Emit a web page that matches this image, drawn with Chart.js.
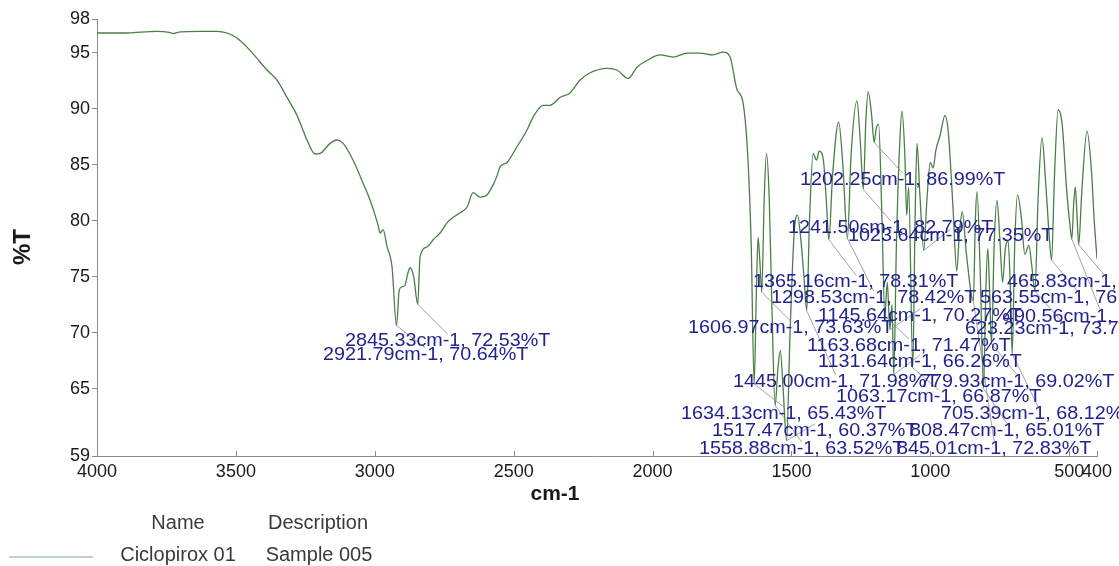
<!DOCTYPE html>
<html>
<head>
<meta charset="utf-8">
<title>Ciclopirox 01 – FTIR</title>
<script src="https://cdn.jsdelivr.net/npm/chart.js@4.4.1/dist/chart.umd.min.js"></script>
<style>
  html, body { margin: 0; padding: 0; background: #ffffff; }
  canvas { display: block; }
</style>
</head>
<body>
<canvas id="ir" width="1119" height="566"></canvas>
<script>
// ---- Spectrum trace (cm-1, %T), picked peaks are merged in below ----
const traceWavenumbers = [
  4000, 3900, 3784, 3740, 3726, 3700, 3629, 3568, 3532, 3496, 3449, 3388, 3352, 3316, 3280,
  3244, 3215, 3197, 3161, 3136, 3114, 3078, 3042, 3017, 2988, 2981, 2970, 2956, 2938,
  2912, 2902, 2892, 2880, 2873, 2860, 2837, 2812, 2790, 2765, 2740, 2718, 2693, 2668,
  2646, 2621, 2596, 2574, 2560, 2549, 2524, 2488, 2452, 2430, 2394, 2369, 2333, 2297,
  2261, 2225, 2164, 2128, 2088, 2056, 2020, 1973, 1926, 1876, 1829, 1782, 1746, 1721,
  1696, 1674, 1656, 1645,
  1626, 1620, 1614, 1598, 1590, 1580, 1570, 1548, 1540, 1530, 1505, 1490, 1478, 1465,
  1455, 1435, 1422, 1410, 1400, 1385, 1375, 1352, 1330, 1315, 1285, 1264, 1252, 1232,
  1224, 1212, 1195, 1186, 1175, 1155, 1138, 1122, 1110, 1102, 1092, 1085, 1078, 1055,
  1048, 1038, 1012, 1000, 990, 980, 965, 947, 935, 918, 905, 895, 885, 870, 838, 832,
  820, 800, 793, 787, 770, 760, 750, 740, 730, 720, 712, 696, 686, 672, 660, 645, 635,
  612, 598, 585, 573, 553, 540, 525, 510, 497, 484, 478, 472, 455, 436, 420, 410, 400
];
const traceTransmittance = [
  96.75, 96.75, 96.9, 96.8, 96.7, 96.85, 96.9, 96.9, 96.75, 96.3, 95.2, 93.45, 92.55, 91.0, 89.4,
  87.2, 85.95, 86.0, 86.9, 87.2, 86.9, 85.4, 83.35, 81.85, 79.6, 78.9, 79.2, 77.7, 75.9,
  73.8, 74.1, 74.2, 75.4, 75.8, 75.0, 76.8, 77.65, 78.3, 78.9, 79.8, 80.3, 80.7, 81.2,
  82.5, 82.1, 82.3, 83.2, 84.0, 84.8, 85.2, 86.6, 88.1, 89.25, 90.3, 90.3, 91.0, 91.4,
  92.55, 93.2, 93.6, 93.45, 92.7, 93.7, 94.3, 94.8, 94.6, 94.95, 94.95, 94.8, 95.05, 94.6,
  91.7, 90.5, 85.2, 78.0,
  74.0, 78.5, 76.5, 82.0, 86.0, 82.0, 72.0, 67.0, 68.4, 65.0, 70.0, 79.0, 80.5, 78.0,
  75.0, 80.0, 86.0, 85.4, 86.2, 85.4, 82.0, 84.0, 88.8, 85.0, 86.0, 90.7, 87.0, 89.0,
  91.5, 89.6, 88.2, 88.6, 81.0, 74.5, 72.5, 78.0, 87.0, 89.8, 86.0, 80.5, 83.0, 80.0,
  86.9, 82.5, 82.0, 85.2, 84.7, 86.3, 87.6, 89.4, 87.8, 81.0, 75.5, 79.0, 80.8, 77.0, 80.0, 82.6,
  75.0, 74.0, 77.5, 74.0, 78.0, 81.8, 78.5, 74.5, 77.5, 78.2, 74.0, 78.0, 82.3, 80.2, 77.0, 77.8, 76.0,
  82.0, 87.4, 83.5, 79.0, 84.0, 89.9, 88.5, 83.0, 79.5, 81.5, 83.0, 80.5, 82.5, 88.0, 84.5, 80.0, 76.6
];

// ---- Picked peaks (cm-1, %T), in label drawing order ----
const peakWavenumbers = [
  2845.33, 2921.79, 1202.25, 1241.50, 1023.64, 1365.16, 465.83, 1298.53, 563.55, 1145.64,
  490.56, 1606.97, 623.23, 1163.68, 1131.64, 1445.00, 779.93, 1063.17, 1634.13, 705.39,
  1517.47, 808.47, 1558.88, 845.01
];
const peakTransmittance = [
  72.53, 70.64, 86.99, 82.79, 77.35, 78.31, 77.85, 78.42, 76.48, 70.27,
  78.35, 73.63, 73.72, 71.47, 66.26, 71.98, 69.02, 66.87, 65.43, 68.12,
  60.37, 65.01, 63.52, 72.83
];

// Where each peak label sits: left edge (cm-1) and text middle (%T)
const labelLeftWavenumber = [
  3107.2, 3186.4, 1469.2, 1512.4, 1296.4, 1638.4, 724.0, 1573.6, 821.2, 1404.4,
  738.4, 1872.4, 875.2, 1444.0, 1404.4, 1710.4, 1037.2, 1339.6, 1897.6, 961.6,
  1786.0, 1073.2, 1832.8, 1120.0
];
const labelMiddleTransmittance = [
  69.26, 68.01, 83.63, 79.35, 78.63, 74.53, 74.53, 73.10, 73.10, 71.49,
  71.40, 70.42, 70.33, 68.82, 67.39, 65.60, 65.60, 64.27, 62.75, 62.75,
  61.23, 61.23, 59.62, 59.62
];

// ---- Axes and legend text ----
const xTickValues = [4000, 3500, 3000, 2500, 2000, 1500, 1000, 500, 400];
const yTickValues = [98, 95, 90, 85, 80, 75, 70, 65, 59];
const xTitle = 'cm-1';
const yTitle = '%T';
const legendHeader = ['Name', 'Description'];
const legendEntry = ['Ciclopirox 01', 'Sample 005'];

// ---- Build the ordered point list (high to low wavenumber) ----
const spectrum = traceWavenumbers.map((w, i) => ({ x: w, y: traceTransmittance[i] }))
  .concat(peakWavenumbers.map((w, i) => ({ x: w, y: peakTransmittance[i] })))
  .sort((a, b) => b.x - a.x);

const FONT = '"Liberation Sans", Arial, Helvetica, sans-serif';
const LABEL_FONT = '19px ' + FONT;
const LABEL_STRETCH = 1.04;
const LABEL_COLOR = '#23238f';
const AXIS_COLOR = '#8a8a8a';

function peakText(i) {
  return peakWavenumbers[i].toFixed(2) + 'cm-1, ' + peakTransmittance[i].toFixed(2) + '%T';
}

// Peak annotations: leader line from the band minimum to its label
const peakLabels = {
  id: 'peakLabels',
  afterDatasetsDraw(chart) {
    const { ctx, scales: { x, y } } = chart;
    ctx.save();
    ctx.font = LABEL_FONT;
    ctx.strokeStyle = '#8c8c8c';
    ctx.lineWidth = 0.8;
    peakWavenumbers.forEach((w, i) => {
      const px = x.getPixelForValue(w);
      const py = y.getPixelForValue(peakTransmittance[i]);
      const width = ctx.measureText(peakText(i)).width * LABEL_STRETCH;
      const lx = x.getPixelForValue(labelLeftWavenumber[i]) + width / 2;
      const ly = y.getPixelForValue(labelMiddleTransmittance[i]) - 7;
      ctx.beginPath();
      ctx.moveTo(px, py);
      ctx.lineTo(lx, ly);
      ctx.stroke();
    });
    ctx.fillStyle = LABEL_COLOR;
    ctx.textBaseline = 'middle';
    ctx.textAlign = 'left';
    peakWavenumbers.forEach((w, i) => {
      const lx = x.getPixelForValue(labelLeftWavenumber[i]);
      const ly = y.getPixelForValue(labelMiddleTransmittance[i]);
      ctx.save();
      ctx.translate(lx, ly);
      ctx.scale(LABEL_STRETCH, 1);
      ctx.fillText(peakText(i), 0, 0);
      ctx.restore();
    });
    ctx.restore();
  }
};

// Axis titles, inward x tick marks and the name/description legend
const frame = {
  id: 'frame',
  afterDraw(chart) {
    const { ctx, chartArea, scales: { x } } = chart;
    ctx.save();
    ctx.strokeStyle = AXIS_COLOR;
    ctx.lineWidth = 1;
    xTickValues.forEach(v => {
      const px = Math.round(x.getPixelForValue(v)) + 0.5;
      ctx.beginPath();
      ctx.moveTo(px, chartArea.bottom);
      ctx.lineTo(px, chartArea.bottom - 5);
      ctx.stroke();
    });

    ctx.fillStyle = '#1a1a1a';
    ctx.textAlign = 'center';
    ctx.textBaseline = 'middle';
    ctx.font = 'bold 21px ' + FONT;
    ctx.fillText(xTitle, 555, 494);
    ctx.save();
    ctx.translate(23, 247);
    ctx.rotate(-Math.PI / 2);
    ctx.font = 'bold 24px ' + FONT;
    ctx.fillText(yTitle, 0, 0);
    ctx.restore();

    ctx.fillStyle = '#3a3a3a';
    ctx.font = '20px ' + FONT;
    ctx.fillText(legendHeader[0], 178, 523);
    ctx.fillText(legendHeader[1], 318, 523);
    ctx.fillText(legendEntry[0], 178, 555);
    ctx.fillText(legendEntry[1], 319, 555);
    ctx.strokeStyle = '#a9bccb';
    ctx.lineWidth = 1.5;
    ctx.beginPath();
    ctx.moveTo(9, 557);
    ctx.lineTo(93, 557);
    ctx.stroke();
    ctx.restore();
  }
};

new Chart(document.getElementById('ir'), {
  type: 'line',
  data: {
    datasets: [{
      label: legendEntry[0],
      data: spectrum,
      borderColor: '#4a7f44',
      borderWidth: 1.3,
      pointRadius: 0,
      fill: false,
      cubicInterpolationMode: 'monotone'
    }]
  },
  options: {
    responsive: false,
    animation: false,
    devicePixelRatio: 1,
    layout: { padding: { top: 19, right: 22, bottom: 0, left: 0 } },
    plugins: {
      legend: { display: false },
      tooltip: { enabled: false }
    },
    scales: {
      x: {
        type: 'linear',
        reverse: true,
        min: 400,
        max: 4000,
        afterBuildTicks: s => { s.ticks = xTickValues.map(v => ({ value: v })); },
        afterFit: s => { s.height = 110; },
        grid: { drawOnChartArea: false, drawTicks: false, color: AXIS_COLOR },
        border: { display: true, color: AXIS_COLOR, width: 1 },
        ticks: {
          autoSkip: false,
          maxRotation: 0,
          padding: 5,
          color: '#1a1a1a',
          font: { family: FONT, size: 18 },
          callback: v => String(v)
        }
      },
      y: {
        type: 'linear',
        min: 59,
        max: 98,
        afterBuildTicks: s => { s.ticks = yTickValues.map(v => ({ value: v })); },
        afterFit: s => { s.width = 97; },
        grid: { drawOnChartArea: false, drawTicks: true, tickLength: 5, color: AXIS_COLOR },
        border: { display: true, color: AXIS_COLOR, width: 1 },
        ticks: {
          autoSkip: false,
          padding: 2,
          color: '#1a1a1a',
          font: { family: FONT, size: 18 },
          callback: v => String(v)
        }
      }
    }
  },
  plugins: [peakLabels, frame]
});
</script>
</body>
</html>
